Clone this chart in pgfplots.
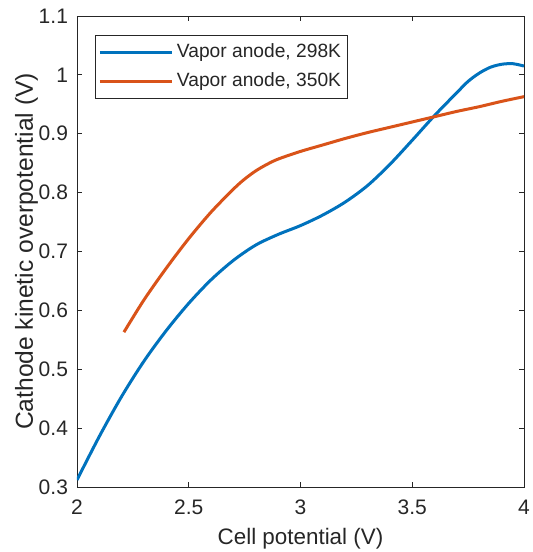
\documentclass[border=0pt]{standalone}
\usepackage{fontspec}
\setmainfont{Liberation Sans}
\usepackage{pgfplots}
\pgfplotsset{compat=1.18}
\definecolor{mblue}{rgb}{0,0.447,0.741}
\definecolor{morange}{rgb}{0.85,0.325,0.098}
\definecolor{axgray}{rgb}{0.15,0.15,0.15}
\begin{document}
\begin{tikzpicture}
\useasboundingbox (-38.5pt,-32.5pt) rectangle (227.5pt,243.5pt);
\begin{axis}[
  at={(0pt,0pt)}, anchor=south west,
  scale only axis, width=223.5pt, height=235.5pt,
  xmin=2, xmax=4, ymin=0.3, ymax=1.1,
  xtick={2,2.5,3,3.5,4},
  ytick={0.3,0.4,0.5,0.6,0.7,0.8,0.9,1,1.1},
  yticklabels={0.3,0.4,0.5,0.6,0.7,0.8,0.9,1,1.1},
  xticklabels={2,2.5,3,3.5,4},
  tick align=inside, major tick length=2.5pt,
  axis line style={axgray, line width=0.4pt},
  every tick/.style={axgray, line width=0.4pt},
  tick label style={font=\fontsize{10.5}{12}\selectfont, text=axgray},
  xticklabel style={yshift=-3pt},
  yticklabel style={xshift=-1pt},
  /pgf/number format/assume math mode=true,
  xlabel={Cell potential (V)},
  ylabel={Cathode kinetic overpotential (V)},
  xlabel style={font=\fontsize{11.2}{13}\selectfont, text=axgray, yshift=0pt},
  ylabel style={font=\fontsize{12.3}{14}\selectfont, text=axgray, yshift=-6.5pt},
  legend cell align=left,
  legend style={at={(0,1)}, anchor=north west, xshift=9pt, yshift=-9.5pt,
    draw=axgray, line width=0.4pt,
    font=\fontsize{9.6}{11}\selectfont, text=axgray,
    inner xsep=1.5pt, inner ysep=1.25pt,
    nodes={text height=7pt, text depth=2pt, inner ysep=2.75pt, inner xsep=1.8pt}},
  legend image code/.code={\draw[#1] (0pt,0pt) -- (36pt,0pt);},
]
\addplot[mblue, line width=1.5pt, smooth] coordinates {
(2.00,0.312) (2.10,0.386) (2.20,0.454) (2.30,0.514) (2.40,0.566)
(2.50,0.612) (2.60,0.652) (2.70,0.685) (2.80,0.711) (2.90,0.729)
(3.00,0.744) (3.10,0.762) (3.20,0.784) (3.30,0.812) (3.40,0.848)
(3.50,0.889) (3.60,0.931) (3.70,0.970) (3.75,0.989) (3.80,1.003)
(3.85,1.013) (3.90,1.018) (3.95,1.019) (4.00,1.015)};
\addlegendentry{Vapor anode, 298K}
\addplot[morange, line width=1.5pt, smooth] coordinates {
(2.21,0.563) (2.30,0.618) (2.40,0.672) (2.50,0.722) (2.60,0.767)
(2.70,0.806) (2.75,0.823) (2.80,0.837) (2.85,0.848) (2.90,0.857)
(3.00,0.870) (3.10,0.881) (3.20,0.892) (3.30,0.902) (3.40,0.911)
(3.50,0.920) (3.60,0.929) (3.70,0.938) (3.80,0.946) (3.90,0.955)
(4.00,0.963)};
\addlegendentry{Vapor anode, 350K}
\end{axis}
\end{tikzpicture}
\end{document}
